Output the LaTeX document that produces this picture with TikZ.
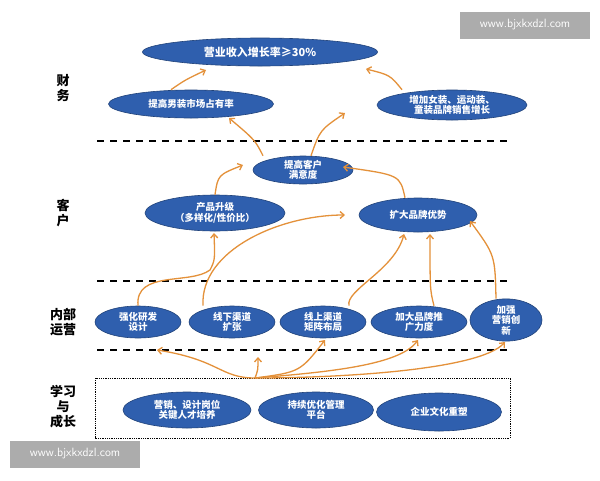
\documentclass[tikz,border=0pt]{standalone}
\usepackage{fontspec}
\newfontfamily\cjk{Noto Sans CJK SC}
\usetikzlibrary{shapes.geometric,arrows.meta}
\definecolor{eb}{HTML}{2F5FAE}
\definecolor{ar}{HTML}{E4913A}
\begin{document}
\begin{tikzpicture}[x=1pt,y=-1pt,
 el/.style={ellipse,fill=eb,draw=eb!70!black,line width=0.6pt,inner sep=0pt,text=white,font=\cjk\bfseries\fontsize{9.5}{10.5}\selectfont,align=center},
 ln/.style={dashed,line width=1.6pt,dash pattern=on 7pt off 6pt},
 ar/.style={draw=ar,line width=1.3pt,-{Straight Barb[length=4pt,width=7pt]}},
 lab/.style={font=\cjk\bfseries\fontsize{13}{15}\selectfont,align=center},
 wm/.style={fill=gray!65,text=white,font=\fontsize{12}{14}\selectfont\sffamily,minimum width=130pt,minimum height=27pt,inner sep=0pt}]
\useasboundingbox (0,0) rectangle (600,480);
\fill[white] (0,0) rectangle (600,480);
\node[el,minimum width=235pt,minimum height=28pt,font=\cjk\bfseries\fontsize{11}{13}\selectfont] (top) at (260,52) {营业收入增长率≥30\%};
\node[el,minimum width=165pt,minimum height=28pt] (nan) at (191,104) {提高男装市场占有率};
\node[el,minimum width=150pt,minimum height=30pt] (nv) at (452,105) {增加女装、运动装、\\童装品牌销售增长};
\node[el,minimum width=100pt,minimum height=28pt] (my) at (303,170) {提高客户\\满意度};
\node[el,minimum width=140pt,minimum height=36pt] (cp) at (215,213) {产品升级\\（多样化/性价比）};
\node[el,minimum width=118pt,minimum height=34pt] (pp) at (418,215) {扩大品牌优势};
\node[el,minimum width=86pt,minimum height=32pt] (a1) at (138,322) {强化研发\\设计};
\node[el,minimum width=86pt,minimum height=32pt] (a2) at (232,322) {线下渠道\\扩张};
\node[el,minimum width=86pt,minimum height=32pt] (a3) at (323,322) {线上渠道\\矩阵布局};
\node[el,minimum width=96pt,minimum height=32pt] (a4) at (419,322) {加大品牌推\\广力度};
\node[el,minimum width=72pt,minimum height=42pt] (a5) at (506,320) {加强\\营销创\\新};
\node[el,minimum width=128pt,minimum height=36pt] (b1) at (187,410) {营销、设计岗位\\关键人才培养};
\node[el,minimum width=115pt,minimum height=36pt] (b2) at (316,410) {持续优化管理\\平台};
\node[el,minimum width=125pt,minimum height=38pt] (b3) at (439,412) {企业文化重塑};
\draw[ln] (97,141) -- (512,141);
\draw[ln] (97,281) -- (512,281);
\draw[ln] (97,350) -- (512,350);
\draw[densely dotted,line width=0.8pt] (95,378) rectangle (510,438);
\node[lab] (l1) at (63,88) {财\\务};
\node[lab] (l2) at (63,213) {客\\户};
\node[lab] (l3) at (63,322) {内部\\运营};
\node[lab] (l4) at (63,407) {学习\\与\\成长};
\coordinate (src) at (255,378);
\draw[ar] ([xshift=-20pt]nan.north) .. controls (185,80) .. (206,70);
\draw[ar] ([xshift=-50pt]nv.north) .. controls (390,75) .. (366,69);
\draw[ar] ([xshift=-40pt]my.north) .. controls (255,140) .. (229,118);
\draw[ar] ([xshift=8pt]my.north) .. controls (320,130) .. (345,113);
\draw[ar] (cp.north) .. controls (218,175) .. (243,165);
\draw[ar] ([xshift=-13pt]pp.north) .. controls (400,175) .. (343,167);
\draw[ar] (a1.north) .. controls (135,270) and (190,285) .. (210,270) .. controls (215,260) .. (214,233);
\draw[ar] ([xshift=-29pt]a2.north) .. controls (200,250) and (280,215) .. (345,215);
\draw[ar] ([xshift=26pt]a3.north) .. controls (345,290) and (395,270) .. (404,234);
\draw[ar] ([xshift=15pt]a4.north) .. controls (430,290) .. (430,234);
\draw[ar] ([xshift=-10pt]a5.north) .. controls (495,255) .. (470,221);
\draw[ar] (src) .. controls (220,378) and (220,360) .. (157,350);
\draw[ar] (src) .. controls (258,370) .. (258,357);
\draw[ar] (src) .. controls (300,372) .. (325,340);
\draw[ar] (src) .. controls (330,372) and (400,365) .. (418,340);
\draw[ar] (src) .. controls (340,378) and (480,370) .. (505,342);
\node[wm] (w1) at (525,25) {www.bjxkxdzl.com};
\node[wm] (w2) at (75,454) {www.bjxkxdzl.com};
\end{tikzpicture}
\end{document}
